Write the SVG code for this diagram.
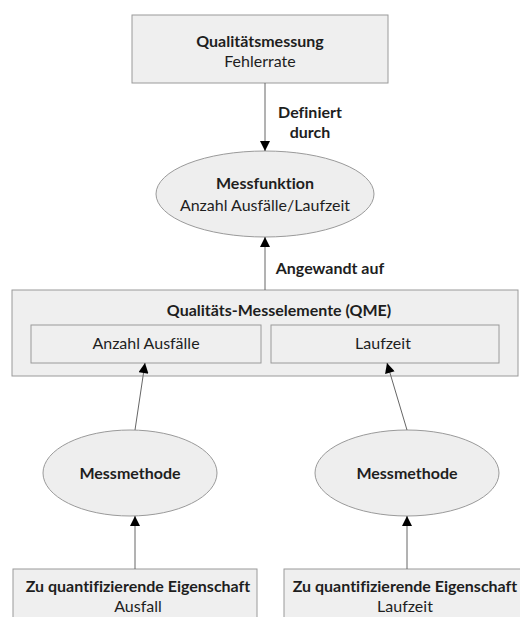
<svg xmlns="http://www.w3.org/2000/svg" width="520" height="617" viewBox="0 0 520 617">
<defs>
<style>
.box{fill:#efefef;stroke:#9a9a9a;stroke-width:1}
.ell{fill:#eeeeee;stroke:#9a9a9a;stroke-width:1}
.t{font-family:Lato,"Open Sans","Liberation Sans",sans-serif;font-size:16px;fill:#1e1e1e;text-anchor:middle;font-variant-ligatures:none}
.b{font-weight:bold}
.con{stroke:#666;stroke-width:1;fill:none;marker-end:url(#ah)}
</style>
<marker id="ah" viewBox="0 0 10 10" refX="10" refY="5" markerWidth="12" markerHeight="10" markerUnits="userSpaceOnUse" orient="auto">
<path d="M0,0 L10,5 L0,10 z" fill="#000"/>
</marker>
</defs>
<rect width="520" height="617" fill="#fff"/>
<g id="qualitaetsmessung">
<rect class="box" x="132" y="15" width="256" height="68"/>
<text class="t b" x="260" y="47">Qualitätsmessung</text>
<text class="t" x="260" y="67">Fehlerrate</text>
</g>
<g id="messfunktion">
<ellipse class="ell" cx="265" cy="194" rx="109" ry="43"/>
<text class="t b" x="265" y="189">Messfunktion</text>
<text class="t" x="265" y="211">Anzahl Ausfälle/Laufzeit</text>
</g>
<g id="qme">
<rect class="box" x="12" y="290" width="506" height="86"/>
<text class="t b" x="279" y="316">Qualitäts-Messelemente (QME)</text>
</g>
<g id="anzahl-ausfaelle">
<rect class="box" x="31" y="325" width="230" height="38"/>
<text class="t" x="146" y="349">Anzahl Ausfälle</text>
</g>
<g id="laufzeit">
<rect class="box" x="271" y="325" width="228" height="38"/>
<text class="t" x="383" y="349">Laufzeit</text>
</g>
<g id="messmethode-1">
<ellipse class="ell" cx="130" cy="473" rx="87" ry="43"/>
<text class="t b" x="130" y="479">Messmethode</text>
</g>
<g id="messmethode-2">
<ellipse class="ell" cx="407" cy="473" rx="92" ry="43"/>
<text class="t b" x="407" y="479">Messmethode</text>
</g>
<g id="eigenschaft-ausfall">
<rect class="box" x="13" y="569" width="244" height="60"/>
<text class="t b" x="138" y="592">Zu quantifizierende Eigenschaft</text>
<text class="t" x="138" y="612">Ausfall</text>
</g>
<g id="eigenschaft-laufzeit">
<rect class="box" x="284" y="569" width="250" height="60"/>
<text class="t b" x="405" y="592">Zu quantifizierende Eigenschaft</text>
<text class="t" x="405" y="612">Laufzeit</text>
</g>
<g id="connectors">
<line class="con" x1="265" y1="83" x2="265" y2="151"/>
<line class="con" x1="265" y1="290" x2="265" y2="237"/>
<line class="con" x1="135" y1="430" x2="145" y2="363"/>
<line class="con" x1="407" y1="430" x2="387" y2="363"/>
<line class="con" x1="135" y1="569" x2="135" y2="516"/>
<line class="con" x1="407" y1="569" x2="407" y2="516"/>
<text class="t b" x="310" y="118">Definiert</text>
<text class="t b" x="310" y="138">durch</text>
<text class="t b" x="330" y="274">Angewandt auf</text>
</g>
</svg>
